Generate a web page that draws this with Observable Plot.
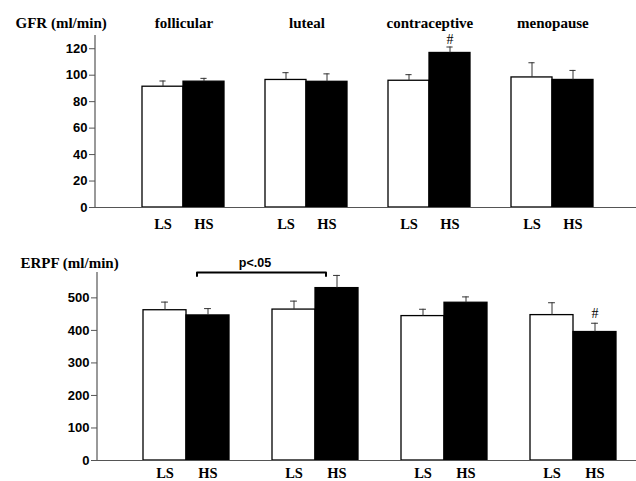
<!DOCTYPE html>
<html><head><meta charset="utf-8">
<script src="https://cdn.jsdelivr.net/npm/d3@7"></script>
<script src="https://cdn.jsdelivr.net/npm/@observablehq/plot@0.6"></script>
<style>
body{margin:0;background:#fff;}
#chart{width:636px;height:481px;}
#chart svg{display:block;}
</style></head><body><div id="chart"></div>
<script>
// ---- data ----
const groups = ["follicular", "luteal", "contraceptive", "menopause"];
const diets = ["LS", "HS"];
const gfrLS = [91.3, 96.4, 95.8, 98.3];
const gfrLSsem = [4.3, 5.5, 4.6, 11.1];
const gfrHS = [95.1, 95.0, 116.8, 96.4];
const gfrHSsem = [2.5, 6.0, 4.5, 7.2];
const erpfLS = [462, 464, 444, 447];
const erpfLSsem = [25, 26, 21, 38];
const erpfHS = [446, 530, 485, 395];
const erpfHSsem = [21, 39, 18, 27];
const gfrTicks = [0, 20, 40, 60, 80, 100, 120];
const erpfTicks = [0, 100, 200, 300, 400, 500];
const gfrMarked = ["contraceptive"];   // "#" above HS bar
const erpfMarked = ["menopause"];
const bracketGroups = ["follicular", "luteal"]; // HS vs HS
const bracketText = ["p<.05"];

// ---- helpers ----
const keyOf = (g, d) => g + "|" + d;
const domainKeys = [];
groups.forEach((g, i) => {
  diets.forEach(d => domainKeys.push(keyOf(g, d)));
  if (i < groups.length - 1) domainKeys.push("gap" + i);
});
function rows(ls, lsSem, hs, hsSem) {
  const out = [];
  groups.forEach((g, i) => {
    out.push({group: g, diet: "LS", key: keyOf(g, "LS"), value: ls[i], hi: ls[i] + lsSem[i]});
    out.push({group: g, diet: "HS", key: keyOf(g, "HS"), value: hs[i], hi: hs[i] + hsSem[i]});
  });
  return out;
}
const serif = "'Liberation Serif', 'Times New Roman', serif";
const sans = "'Liberation Sans', Arial, sans-serif";

function panel({data, ticks, yMax, yTitle, marked, xRange, height, mTop, mBottom, mLeft, labelPad, hashDy, titleDy, yTitleDx, showGroupTitles, bracket}) {
  const bw = (xRange[1] - xRange[0]) / domainKeys.length;
  const marks = [
    Plot.barY(data, {x: "key", y: "value", fill: "diet", stroke: "black", strokeWidth: 1.3}),
    Plot.ruleX(data, {x: "key", y1: "value", y2: "hi", stroke: "#333", strokeWidth: 1}),
    Plot.tickY(data, {x: "key", y: "hi", stroke: "#333", strokeWidth: 1, insetLeft: (bw - 7) / 2, insetRight: (bw - 7) / 2}),
    Plot.text(data.filter(d => d.diet === "HS" && marked.includes(d.group)), {x: "key", y: "hi", text: () => "#", dy: hashDy, fontFamily: serif, fontSize: 14, fill: "black"}),
    Plot.ruleY([0], {stroke: "#555", strokeWidth: 1.2}),
    Plot.axisY({ticks, tickSize: 6, tickPadding: 2, label: null, stroke: "#555", fontFamily: sans, fontSize: 13, fontWeight: "bold"}),
    Plot.axisX({ticks: domainKeys.filter(k => k.includes("|")), tickFormat: k => k.split("|")[1], tickSize: 0, tickPadding: labelPad, label: null, fontFamily: serif, fontSize: 14.5, fontWeight: "bold"}),
    Plot.text([yTitle], {frameAnchor: "top-left", textAnchor: "start", dx: yTitleDx, dy: titleDy, fontFamily: serif, fontSize: 15, fontWeight: "bold", fill: "black"})
  ];
  if (showGroupTitles) {
    marks.push(Plot.text(groups, {x: g => keyOf(g, "LS"), text: g => g, frameAnchor: "top", dx: bw / 2, dy: titleDy, fontFamily: serif, fontSize: 15, fontWeight: "bold", fill: "black", style: "letter-spacing:1px"}));
  }
  if (bracket) {
    const depth = yMax * 0.018;
    const pts = [
      {key: keyOf(bracket[0], "HS"), y: yMax - depth},
      {key: keyOf(bracket[0], "HS"), y: yMax},
      {key: keyOf(bracket[1], "HS"), y: yMax},
      {key: keyOf(bracket[1], "HS"), y: yMax - depth}
    ];
    marks.push(Plot.line(pts, {x: "key", y: "y", dx: -11, stroke: "black", strokeWidth: 2}));
    marks.push(Plot.text(bracketText, {x: () => keyOf(bracket[0], "HS"), text: d => d, frameAnchor: "top", dx: 47, dy: -14, fontFamily: sans, fontSize: 12.5, fontWeight: "bold", fill: "black"}));
  }
  const svg = Plot.plot({
    width: 636, height, marginTop: mTop, marginBottom: mBottom, marginLeft: mLeft, marginRight: 0,
    style: {fontFamily: sans, fontSize: "13px", color: "black", background: "white"},
    x: {type: "band", domain: domainKeys, range: xRange, padding: 0, axis: null},
    y: {domain: [0, yMax], axis: null},
    color: {domain: diets, range: ["white", "black"]},
    marks
  });
  // y axis line along the left edge of the frame
  const ys = svg.scale("y");
  d3.select(svg).append("line")
    .attr("x1", mLeft).attr("x2", mLeft)
    .attr("y1", ys.apply(0)).attr("y2", ys.apply(yMax))
    .attr("stroke", "#555").attr("stroke-width", 1.2);
  return svg;
}

const gfrPanel = panel({
  data: rows(gfrLS, gfrLSsem, gfrHS, gfrHSsem), ticks: gfrTicks, yMax: 130, yTitle: "GFR (ml/min)",
  marked: gfrMarked, xRange: [137, 597], height: 232, mTop: 35, mBottom: 25, mLeft: 95,
  labelPad: 11, hashDy: -7, titleDy: -18, yTitleDx: -80, showGroupTitles: true, bracket: null
});
const erpfPanel = panel({
  data: rows(erpfLS, erpfLSsem, erpfHS, erpfHSsem), ticks: erpfTicks, yMax: 578, yTitle: "ERPF (ml/min)",
  marked: erpfMarked, xRange: [142, 616.5], height: 249, mTop: 40, mBottom: 21, mLeft: 97,
  labelPad: 7, hashDy: -10, titleDy: -15, yTitleDx: -77, showGroupTitles: false, bracket: bracketGroups
});
document.getElementById("chart").append(gfrPanel, erpfPanel);
</script></body></html>
